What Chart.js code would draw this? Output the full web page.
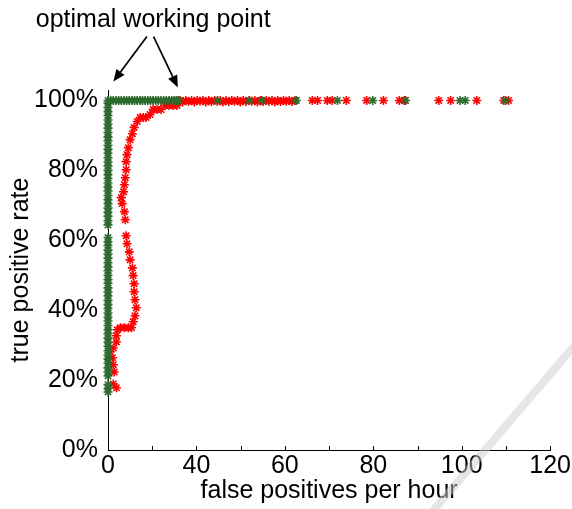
<!DOCTYPE html>
<html>
<head>
<meta charset="utf-8">
<script src="https://cdn.jsdelivr.net/npm/chart.js@4/dist/chart.umd.min.js"></script>
<style>
  html, body { margin: 0; padding: 0; background: #fff; }
  #wrap { width: 572px; height: 509px; }
</style>
</head>
<body>
<div id="wrap"><canvas id="c" width="572" height="509"></canvas></div>
<script>
// ---------- DATA ----------
// Green series: vertical column at the left edge of the axis (displayed "0")
const greenColX = [20,20,20,20,20,20,20,20,20,20,20,20,20,20,20,20,20,20,20,20,20,20,20,20,20,20,20,20,20,20,20,20,20,20,20,20,20,20,20,20,20,20,20,20,20,20,20,20,20,20,20,20,20,20,20,20,20,20,20,20,20,20,20,20,20,20,20];
const greenColY = [16.6,17.6,18.7,21.2,22.3,23.5,24.8,26.0,27.1,28.4,29.7,30.8,32.0,33.3,34.4,35.6,36.9,38.0,39.2,40.5,41.6,42.8,44.1,45.2,46.4,47.7,48.8,50.0,51.3,52.4,53.6,54.9,56.0,57.2,58.5,59.6,60.8,64.4,65.6,66.9,68.0,69.2,70.5,71.6,72.8,74.1,75.2,76.4,77.7,78.8,80.0,81.3,82.4,83.6,84.9,86.0,87.2,88.5,89.6,90.8,92.1,93.2,94.4,95.7,96.8,98.0,99.2];
// Green series: points along 100 %
const greenTopX = [20.0,20.6,21.2,21.8,22.4,23.0,23.6,24.2,24.8,25.4,26.0,26.6,27.2,27.8,28.4,29.0,29.6,30.2,30.8,31.4,32.0,32.6,33.2,33.8,34.4,35.0,35.5,35.9,44.8,52.0,54.8,62.6,71.9,79.9,87.3,99.6,100.8,109.9];
const greenTopY = [100,100,100,100,100,100,100,100,100,100,100,100,100,100,100,100,100,100,100,100,100,100,100,100,100,100,100,100,100,100,100,100,100,100,100,100,100,100];

// Red series: the curve
const redCurveX = [21.9,21.2,21.4,21.2,21.0,20.5,21.2,21.9,21.9,22.1,22.8,23.7,24.6,25.3,25.7,26.1,26.4,26.1,25.9,25.9,25.7,25.5,25.0,24.8,24.3,24.1,23.9,23.7,23.2,23.0,23.5,23.7,23.9,24.1,24.1,24.3,24.6,25.0,25.5,25.9,26.6,27.3,28.0,28.6,29.5,30.2,31.1,32.0,32.9,33.8,34.7,35.6];
const redCurveY = [17.8,18.9,22.3,24.4,26.4,28.1,29.2,30.9,32.7,34.4,35.0,35.0,35.0,35.0,36.7,38.4,40.7,43.0,45.3,47.6,49.9,52.1,54.4,56.7,59.0,61.3,65.9,68.2,70.5,72.2,73.9,75.9,77.9,80.2,82.5,84.5,86.5,88.8,90.5,92.3,94.0,95.1,95.1,95.1,96.0,97.4,97.4,97.4,98.6,98.6,98.6,98.6];
// Red series: points along 100 %
const redTopX = [36.3,36.9,37.6,38.2,38.9,39.5,40.2,40.8,41.5,42.1,42.8,43.4,44.1,44.7,45.4,46.0,46.7,47.3,48.0,48.6,49.3,49.9,50.6,51.2,51.9,52.5,53.2,53.8,54.5,55.1,55.8,56.4,57.1,57.7,58.4,59.0,59.7,60.3,61.0,61.6,62.3,66.2,67.4,69.6,70.7,73.9,78.5,82.3,85.9,87.0,94.8,97.5,103.4,109.5,110.6];
const redTopY = [100,99.6,100,99.7,100,99.6,100,99.8,100,99.6,100,99.7,100,99.8,100,99.6,100,99.7,100,99.8,100,99.6,100,99.7,100,99.8,100,99.6,100,99.7,100,99.8,100,99.6,100,99.7,100,99.8,100,99.7,100,100,100,100,100,100,100,100,100,100,100,100,100,100,100];

// Axes
const xTicks = [20,30,40,50,60,70,80,90,100,110,120];
const xTickLabels = ['0','','40','','60','','80','','100','','120'];
const yTicks = [0,20,40,60,80,100];
const yTickLabels = ['0%','20%','40%','60%','80%','100%'];
const xTitle = 'false positives per hour';
const yTitle = 'true positive rate';
const noteText = 'optimal working point';
// Annotation arrows in data units: [fromX, fromY, toX, toY]
const arrows = [[28.8,118.3,21.2,105.4],[30.3,118.3,35.8,103.7]];
const noteAnchor = [30.0, 123.0];

// ---------- BUILD ----------
const zip = (xs, ys) => xs.map((x, i) => ({x, y: ys[i]}));
const green = zip(greenColX, greenColY).concat(zip(greenTopX, greenTopY));
const red = zip(redCurveX, redCurveY).concat(zip(redTopX, redTopY));

const FONT = 'Liberation Sans, Arial, Helvetica, sans-serif';
const FS = 25;

const overlay = {
  id: 'overlay',
  afterDraw(chart) {
    const ctx = chart.ctx;
    const xs = chart.scales.x, ys = chart.scales.y;
    ctx.save();
    // inward x ticks
    ctx.strokeStyle = '#000';
    ctx.lineWidth = 1;
    const yb = ys.getPixelForValue(0);
    xTicks.forEach(v => {
      const px = Math.round(xs.getPixelForValue(v)) + 0.5;
      ctx.beginPath();
      ctx.moveTo(px, yb);
      ctx.lineTo(px, yb - 4);
      ctx.stroke();
    });
    // annotation text
    ctx.fillStyle = '#000';
    ctx.font = FS + 'px ' + FONT;
    ctx.textAlign = 'center';
    ctx.textBaseline = 'middle';
    ctx.fillText(noteText, xs.getPixelForValue(noteAnchor[0]) + 1, ys.getPixelForValue(noteAnchor[1]));
    // arrows
    arrows.forEach(a => {
      const x0 = xs.getPixelForValue(a[0]), y0 = ys.getPixelForValue(a[1]);
      const x1 = xs.getPixelForValue(a[2]), y1 = ys.getPixelForValue(a[3]);
      const ang = Math.atan2(y1 - y0, x1 - x0);
      const hl = 12, hw = 5;
      const bx = x1 - hl * Math.cos(ang), by = y1 - hl * Math.sin(ang);
      ctx.lineWidth = 1.7;
      ctx.beginPath();
      ctx.moveTo(x0, y0);
      ctx.lineTo(bx, by);
      ctx.stroke();
      ctx.beginPath();
      ctx.moveTo(x1, y1);
      ctx.lineTo(bx + hw * Math.sin(ang), by - hw * Math.cos(ang));
      ctx.lineTo(bx - hw * Math.sin(ang), by + hw * Math.cos(ang));
      ctx.closePath();
      ctx.fill();
    });
    // faint watermark stroke
    ctx.strokeStyle = 'rgba(205,205,205,0.5)';
    ctx.lineWidth = 8;
    ctx.lineCap = 'butt';
    ctx.beginPath();
    ctx.moveTo(432, 512);
    ctx.lineTo(575, 345);
    ctx.stroke();
    ctx.restore();
  }
};

new Chart(document.getElementById('c'), {
  type: 'scatter',
  data: {
    datasets: [
      { label: 'green', data: green, borderColor: '#2f6b2f', backgroundColor: '#2f6b2f',
        pointStyle: 'star', pointRadius: 4.5, pointBorderWidth: 1.6, showLine: false },
      { label: 'red', data: red, borderColor: '#ff0000', backgroundColor: '#ff0000',
        pointStyle: 'star', pointRadius: 4.5, pointBorderWidth: 1.6, showLine: false }
    ]
  },
  options: {
    responsive: false,
    animation: false,
    devicePixelRatio: 1,
    layout: { padding: { left: 0, right: 20, top: 90, bottom: 0 } },
    plugins: { legend: { display: false }, tooltip: { enabled: false } },
    clip: false,
    scales: {
      x: {
        type: 'linear', min: 20, max: 120,
        afterBuildTicks: s => { s.ticks = xTicks.map(v => ({value: v})); },
        afterFit: s => { s.height = 59; },
        grid: { display: true, drawOnChartArea: false, drawTicks: false },
        border: { display: true, color: '#000', width: 1 },
        ticks: { color: '#000', font: { family: FONT, size: FS }, padding: 1, maxRotation: 0, autoSkip: false,
          callback: (v, i) => xTickLabels[i] },
        title: { display: true, text: xTitle, color: '#000', font: { family: FONT, size: FS }, padding: { top: 0, bottom: 3 } }
      },
      y: {
        type: 'linear', min: 0, max: 103,
        afterBuildTicks: s => { s.ticks = yTicks.map(v => ({value: v})); },
        afterFit: s => { s.width = 108; },
        grid: { display: true, drawOnChartArea: false, drawTicks: false },
        border: { display: true, color: '#000', width: 1 },
        ticks: { color: '#000', font: { family: FONT, size: FS }, padding: 10, autoSkip: false,
          callback: (v, i) => yTickLabels[i] },
        title: { display: true, text: yTitle, color: '#000', font: { family: FONT, size: FS }, padding: { top: 6, bottom: 0 } }
      }
    }
  },
  plugins: [overlay]
});
</script>
</body>
</html>
